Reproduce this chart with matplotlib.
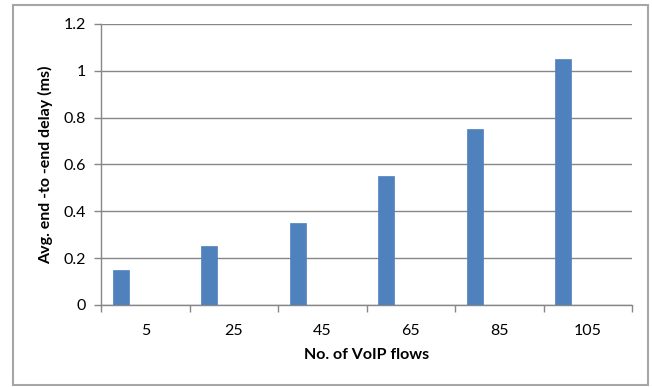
import numpy as np
import matplotlib
matplotlib.use('Agg')
import matplotlib.pyplot as plt
from matplotlib.patches import Rectangle

# Data
flows = ['5', '25', '45', '65', '85', '105']
delay = [0.15, 0.25, 0.35, 0.55, 0.75, 1.05]

plt.rcParams['font.family'] = ['Lato', 'DejaVu Sans']

fig = plt.figure(figsize=(6.52, 3.87), dpi=100)
W, H = 652, 387
ax = fig.add_axes([101 / W, 1 - 305 / H, (632 - 101) / W, (305 - 24) / H])

x = np.arange(len(flows))
# Excel clustered layout: first of four series, gap width 150%
bar_w = 0.18
ax.bar(x - 0.5 + 0.135 + bar_w / 2, delay, width=bar_w, color='#4F81BD',
       edgecolor='#4F81BD', linewidth=0.5, zorder=3)

ax.set_xlim(-0.5, len(flows) - 0.5)
ax.set_ylim(0, 1.2)
ax.set_yticks(np.arange(0, 1.21, 0.2))
ax.set_yticklabels(['0', '0.2', '0.4', '0.6', '0.8', '1', '1.2'])

# category labels centered, ticks at boundaries
ax.set_xticks(x)
ax.set_xticklabels(flows)
ax.set_xticks(np.arange(-0.5, len(flows)), minor=True)
ax.tick_params(axis='x', which='major', length=0, pad=14, labelsize=11.5)
ax.tick_params(axis='x', which='minor', length=5, width=1, color='#878787')
ax.tick_params(axis='y', length=5, width=1, color='#878787', labelsize=11.5, pad=6)

ax.grid(axis='y', color='#878787', linewidth=1, zorder=1)
for s in ['top', 'right']:
    ax.spines[s].set_visible(False)
for s in ['left', 'bottom']:
    ax.spines[s].set_color('#878787')
    ax.spines[s].set_linewidth(1)

ax.set_xlabel('No. of VoIP flows', fontsize=11.5, fontweight='bold', labelpad=7)
ax.set_ylabel('Avg. end -to -end delay (ms)', fontsize=11.5, fontweight='bold', labelpad=7)

# outer chart border
fig.patches.append(Rectangle((13 / W, 1 - 385 / H), (648 - 13) / W, (385 - 5) / H,
                             transform=fig.transFigure, fill=False,
                             edgecolor='#a6a6a6', linewidth=1.5))

fig.savefig('out.png', dpi=100)
